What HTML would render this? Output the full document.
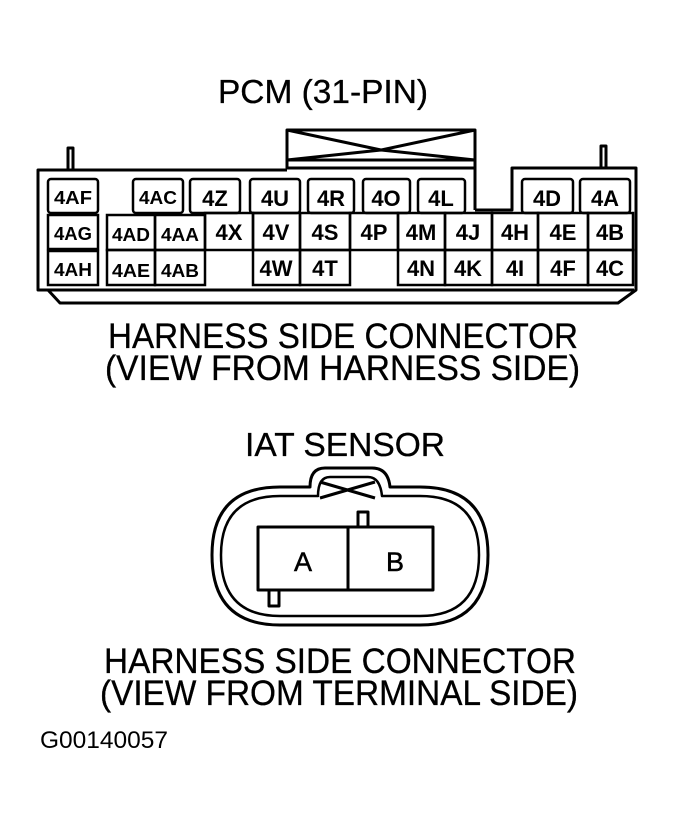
<!DOCTYPE html>
<html><head><style>html,body{margin:0;padding:0;background:#fff}svg{display:block}</style></head><body>
<svg width="674" height="822" viewBox="0 0 674 822" xmlns="http://www.w3.org/2000/svg" font-family="Liberation Sans, sans-serif">
<g fill="#000" stroke="#000" stroke-width="0.3">
<text x="218" y="103" font-size="33" textLength="210" lengthAdjust="spacingAndGlyphs">PCM (31-PIN)</text>
<text x="108" y="348" font-size="35" textLength="470" lengthAdjust="spacingAndGlyphs">HARNESS SIDE CONNECTOR</text>
<text x="105" y="380" font-size="35" textLength="475" lengthAdjust="spacingAndGlyphs">(VIEW FROM HARNESS SIDE)</text>
<text x="245" y="456" font-size="33" textLength="200" lengthAdjust="spacingAndGlyphs">IAT SENSOR</text>
<text x="104" y="673" font-size="35" textLength="472" lengthAdjust="spacingAndGlyphs">HARNESS SIDE CONNECTOR</text>
<text x="100" y="705" font-size="35" textLength="478" lengthAdjust="spacingAndGlyphs">(VIEW FROM TERMINAL SIDE)</text>
<text x="40" y="748" font-size="24" textLength="128" lengthAdjust="spacingAndGlyphs" stroke-width="0">G00140057</text>
</g>
<g fill="none" stroke="#000" stroke-width="3" stroke-linejoin="round">
<path d="M287 170 H38 V290 H48 L60 303 H618 L636 290 V168 H512 V210 H475"/>
<path d="M40 290 H634"/>
<path d="M68 170 V148 H73 V170 M601 168 V146 H606 V168"/>
<rect x="287" y="130" width="188" height="38"/>
<path d="M287 130 L381 150 L475 130 M287 160 L381 150 L475 160 M287 160 H475"/>
<path d="M475 168 V210"/>
</g>
<g fill="none" stroke="#000" stroke-width="2.5">
<rect x="48" y="179" width="50" height="34" rx="3"/>
<rect x="133" y="179" width="50" height="34" rx="3"/>
<rect x="190" y="179" width="50" height="34" rx="3"/>
<rect x="250" y="179" width="50" height="34" rx="3"/>
<rect x="308" y="179" width="46" height="34" rx="3"/>
<rect x="363" y="179" width="47" height="34" rx="3"/>
<rect x="418" y="179" width="47" height="34" rx="3"/>
<rect x="522" y="179" width="51" height="34" rx="3"/>
<rect x="580" y="179" width="50" height="34" rx="3"/>
<rect x="48" y="215" width="50" height="34"/>
<rect x="48" y="251" width="50" height="34"/>
<rect x="107" y="215" width="48" height="35"/>
<rect x="155" y="215" width="50" height="35"/>
<rect x="205" y="213" width="48" height="37"/>
<rect x="253" y="213" width="47" height="37"/>
<rect x="300" y="213" width="50" height="37"/>
<rect x="350" y="213" width="48" height="37"/>
<rect x="398" y="213" width="47" height="37"/>
<rect x="445" y="213" width="47" height="37"/>
<rect x="492" y="213" width="46" height="37"/>
<rect x="538" y="213" width="50" height="37"/>
<rect x="588" y="213" width="45" height="37"/>
<rect x="107" y="250" width="48" height="35"/>
<rect x="155" y="250" width="50" height="35"/>
<rect x="253" y="250" width="47" height="35"/>
<rect x="300" y="250" width="50" height="35"/>
<rect x="398" y="250" width="47" height="35"/>
<rect x="445" y="250" width="47" height="35"/>
<rect x="492" y="250" width="46" height="35"/>
<rect x="538" y="250" width="50" height="35"/>
<rect x="588" y="250" width="45" height="35"/>
</g>
<g fill="#000" font-size="22" font-weight="bold" text-anchor="middle">
<text x="73" y="204" font-size="18" textLength="38" lengthAdjust="spacingAndGlyphs">4AF</text>
<text x="73" y="240" font-size="18" textLength="38" lengthAdjust="spacingAndGlyphs">4AG</text>
<text x="73" y="276" font-size="18" textLength="38" lengthAdjust="spacingAndGlyphs">4AH</text>
<text x="158" y="204" font-size="18" textLength="38" lengthAdjust="spacingAndGlyphs">4AC</text>
<text x="131" y="241" font-size="18" textLength="38" lengthAdjust="spacingAndGlyphs">4AD</text>
<text x="180" y="241" font-size="18" textLength="38" lengthAdjust="spacingAndGlyphs">4AA</text>
<text x="131" y="277" font-size="18" textLength="38" lengthAdjust="spacingAndGlyphs">4AE</text>
<text x="180" y="277" font-size="18" textLength="38" lengthAdjust="spacingAndGlyphs">4AB</text>
<text x="215" y="206">4Z</text>
<text x="275" y="206">4U</text>
<text x="331" y="206">4R</text>
<text x="386" y="206">4O</text>
<text x="441" y="206">4L</text>
<text x="547" y="206">4D</text>
<text x="605" y="206">4A</text>
<text x="229" y="240">4X</text>
<text x="276" y="240">4V</text>
<text x="325" y="240">4S</text>
<text x="374" y="240">4P</text>
<text x="421" y="240">4M</text>
<text x="468" y="240">4J</text>
<text x="515" y="240">4H</text>
<text x="563" y="240">4E</text>
<text x="610" y="240">4B</text>
<text x="276" y="276">4W</text>
<text x="325" y="276">4T</text>
<text x="421" y="276">4N</text>
<text x="468" y="276">4K</text>
<text x="515" y="276">4I</text>
<text x="563" y="276">4F</text>
<text x="610" y="276">4C</text>
</g>
<g fill="none" stroke="#000" stroke-width="3" stroke-linejoin="round">
<path d="M310 487 Q310 468 325 468 H372 Q388 468 390 487 H420 Q488 487 488 555 Q488 625 420 625 H280 Q212 625 212 555 Q212 487 280 487 Z"/>
<path d="M318 496 Q318 477 330 477 H368 Q380 477 382 496 H420 Q479 496 479 555 Q479 616 420 616 H280 Q221 616 221 555 Q221 496 280 496 Z" stroke-width="2.5"/>
<path d="M320 482 L375 498 M320 498 L375 482"/>
<rect x="258" y="527" width="175" height="63"/>
<path d="M348 527 V590"/>
<rect x="358" y="512" width="10" height="15"/>
<rect x="269" y="590" width="10" height="16"/>
</g>
<g fill="#000" font-size="27" text-anchor="middle" stroke="#000" stroke-width="0.5">
<text x="303" y="571">A</text>
<text x="395" y="571">B</text>
</g>
</svg>
</body></html>
